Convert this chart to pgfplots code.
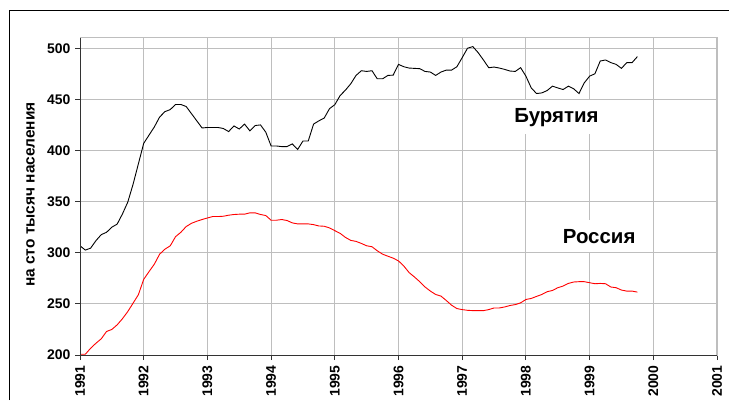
\documentclass[border=0pt]{standalone}
\usepackage{fontspec}
\setmainfont{Liberation Sans}
\usepackage{pgfplots}
\pgfplotsset{compat=1.18}
\usepackage{pgfplotstable}
\definecolor{gridgray}{RGB}{190,190,190}
\definecolor{rusred}{RGB}{255,0,0}
\pgfplotstableread{
m bur rus
0 306.8 200.7
1 302.6 200.7
2 304.5 206.6
3 311.8 211.5
4 317.7 215.8
5 320.0 223.0
6 325.0 225.0
7 328.0 229.5
8 338.0 235.5
9 349.5 242.5
10 367.0 250.7
11 387.0 259.0
12 407.0 274.0
13 415.0 281.5
14 423.0 288.8
15 432.7 298.6
16 438.0 303.5
17 440.0 306.8
18 445.0 315.7
19 445.0 320.0
20 443.0 325.6
21 436.0 328.8
22 429.0 330.8
23 422.0 332.5
24 422.5 334.0
25 422.5 335.4
26 422.5 335.4
27 421.5 335.7
28 418.5 336.7
29 424.0 337.4
30 421.0 337.7
31 425.8 337.7
32 419.2 339.0
33 424.4 339.0
34 425.0 337.4
35 417.9 336.4
36 404.4 331.8
37 404.4 331.8
38 403.8 332.5
39 403.8 331.5
40 406.4 329.2
41 401.0 328.2
42 409.3 328.2
43 409.3 328.2
44 425.8 327.5
45 429.0 326.2
46 431.7 325.9
47 440.9 324.3
48 444.8 321.6
49 453.7 319.0
50 459.0 315.0
51 465.2 312.1
52 473.4 311.1
53 478.0 309.1
54 477.3 306.8
55 478.0 305.9
56 470.1 301.9
57 470.1 298.6
58 473.4 296.6
59 473.7 294.7
60 484.2 292.0
61 481.9 287.0
62 480.6 280.6
63 480.3 276.3
64 480.0 271.7
65 477.3 266.5
66 476.7 262.5
67 473.4 259.2
68 476.7 257.6
69 478.6 253.3
70 478.6 248.7
71 481.9 245.4
72 490.8 244.4
73 500.0 243.7
74 501.6 243.4
75 495.7 243.4
76 488.5 243.4
77 480.9 244.4
78 481.6 246.0
79 480.6 246.0
80 479.3 247.0
81 477.7 248.4
82 477.3 249.3
83 481.0 251.0
84 472.7 254.3
85 461.2 255.3
86 455.7 257.3
87 456.3 259.2
88 458.6 261.9
89 462.9 263.1
90 461.2 265.8
91 459.6 267.4
92 462.9 270.0
93 460.3 271.4
94 455.7 271.7
95 466.2 271.7
96 472.7 270.7
97 475.0 269.7
98 487.5 270.0
99 488.5 269.7
100 485.9 266.5
101 484.2 265.8
102 480.3 263.5
103 485.9 262.5
104 485.9 262.5
105 491.8 261.5
}\datatable
\begin{document}
\begin{tikzpicture}[x=1bp,y=1bp]
\useasboundingbox (0,0) rectangle (729,400);
\draw[black, line width=1bp] (9,0) -- (9,389) -- (729,389);
\node[rotate=90, font=\fontsize{15.5}{15.5}\selectfont\bfseries] at (30.5,205.5) {на сто тысяч населения};
\begin{axis}[
  at={(80bp,45bp)}, anchor=south west,
  scale only axis, width=637bp, height=317bp,
  xmin=1991, xmax=2001, ymin=200, ymax=510,
  xtick={1991,1992,...,2001}, minor x tick num=3,
  ytick={200,250,...,500},
  grid=both,
  major grid style={draw=gridgray, line width=1bp},
  minor grid style={draw=gridgray, line width=1bp},
  axis line style={draw=gridgray, line width=1bp},
  tick style={draw=black!80, line width=0.8bp},
  tick align=outside,
  xtick pos=left, ytick pos=left,
  major tick length=5bp, minor tick length=5bp,
  /pgf/number format/assume math mode=true,
  /pgf/number format/1000 sep={},
  x tick label style={rotate=90, anchor=east, font=\fontsize{14}{14}\selectfont\bfseries, xshift=-2bp},
  y tick label style={font=\fontsize{14}{14}\selectfont\bfseries, xshift=-1bp},
]
\addplot[black, line width=0.9bp] table[x expr=1991+\thisrow{m}/12, y=bur] {\datatable};
\addplot[rusred, line width=0.9bp] table[x expr=1991+\thisrow{m}/12, y=rus] {\datatable};
\fill[white] (axis cs:1997.12,449) rectangle (axis cs:1999.87,416.2);
\fill[white] (axis cs:1998.38,332.4) rectangle (axis cs:1999.87,301);
\node[font=\fontsize{20.5}{20.5}\selectfont\bfseries] at (axis cs:1998.48,432.4) {Бурятия};
\node[font=\fontsize{20.5}{20.5}\selectfont\bfseries] at (axis cs:1999.15,315.7) {Россия};
\draw[black!80, line width=1bp] (rel axis cs:0,1) -- (rel axis cs:0,0) -- (rel axis cs:1,0);
\end{axis}
\end{tikzpicture}
\end{document}
